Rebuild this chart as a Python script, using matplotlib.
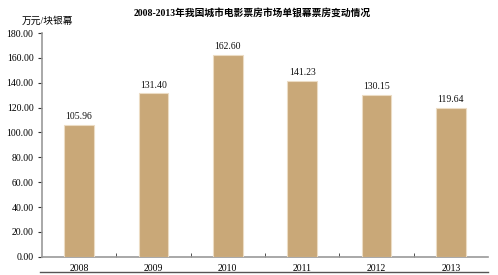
import matplotlib.pyplot as plt
from matplotlib.lines import Line2D
import numpy as np

YEARS = ["2008", "2009", "2010", "2011", "2012", "2013"]
VALUES = [105.96, 131.40, 162.60, 141.23, 130.15, 119.64]

TITLE = "2008-2013年我国城市电影票房市场单银幕票房变动情况"
UNIT = "万元/块银幕"

plt.rcParams["font.family"] = ["Liberation Serif", "Noto Sans CJK SC", "DejaVu Sans"]

fig = plt.figure(figsize=(4.98, 2.75), dpi=100)
ax = fig.add_axes([0.084, 0.066, 0.896, 0.814])

x = np.arange(len(YEARS))
ax.bar(x, VALUES, width=0.4, color="#c9a878", edgecolor="#ecdcc4", linewidth=0.8, zorder=3)

for xi, v in zip(x, VALUES):
    ax.text(xi, v + 3, f"{v:.2f}", ha="center", va="bottom", fontsize=7, color="#111111")

ax.set_xlim(-0.5, len(YEARS) - 0.5)
ax.set_ylim(0, 180)
ax.set_yticks(np.arange(0, 181, 20))
ax.set_yticklabels([f"{t:.2f}" for t in np.arange(0, 181, 20)], fontsize=7)
ax.set_xticks(x)
ax.set_xticklabels(YEARS, fontsize=7)
ax.tick_params(axis="x", length=0, pad=5)
ax.set_xticks(np.arange(0.5, len(YEARS) - 0.5, 1), minor=True)
ax.tick_params(axis="x", which="minor", direction="in", length=3, color="#333333")
ax.tick_params(axis="y", direction="out", length=3, color="#333333", pad=3)

for s in ["top", "right"]:
    ax.spines[s].set_visible(False)
for s in ["left", "bottom"]:
    ax.spines[s].set_color("#9a9a9a")
    ax.spines[s].set_linewidth(1.2)

fig.text(0.506, 0.95, TITLE, ha="center", va="center", fontsize=7, fontweight="bold")
fig.text(0.096, 0.925, UNIT, ha="center", va="center", fontsize=7)

fig.add_artist(Line2D([0.08, 0.98], [0.011, 0.011], color="#555555", linewidth=1.0,
                      transform=fig.transFigure))

fig.savefig("out.png", dpi=100)
